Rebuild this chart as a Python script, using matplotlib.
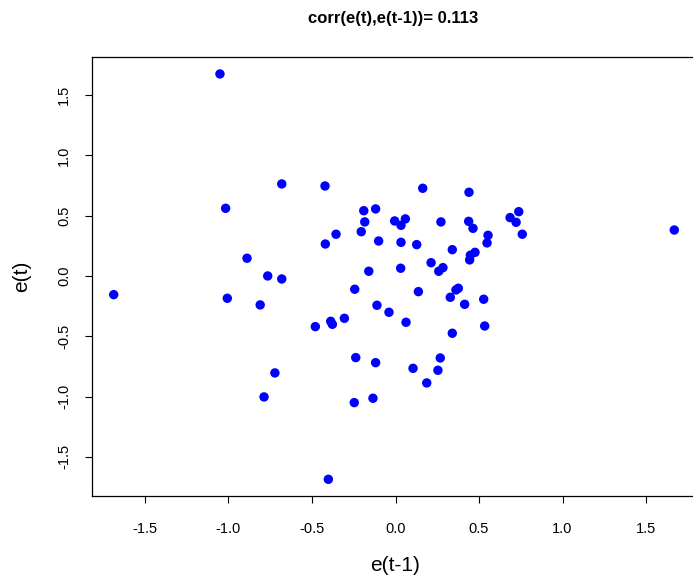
import numpy as np
from matplotlib import pyplot as plt

plt.rcParams['font.family'] = ['Liberation Sans', 'DejaVu Sans']

# residual pairs: e(t-1) on x, e(t) on y
e_prev = [-1.051, -0.681, -0.422, -1.017, -0.190, -0.119, -0.184, -0.356, -0.205, -0.420,
          -0.101, -0.889, -0.160, -0.765, -0.681, -1.687, -1.007, -0.244, -0.810, -0.111,
          -0.039, -0.306, -0.388, -0.378, -0.480, -0.238, -0.119, -0.722, -0.787, -0.247,
          -0.135, -0.402,
          -0.005, 0.059, 0.033, 0.033, 0.127, 0.031, 0.137,
          0.163, 0.440, 0.272, 0.438, 0.464, 0.686, 0.738, 0.722, 0.759, 0.554,
          0.548, 0.340, 0.476, 0.448, 0.444, 0.213, 0.284, 0.259, 0.376, 0.362,
          0.328, 0.528,
          0.063, 0.105, 0.187,
          0.414, 0.534, 0.340, 0.268, 0.254,
          1.669]
e_curr = [1.675, 0.763, 0.746, 0.561, 0.541, 0.556, 0.448, 0.346, 0.367, 0.265,
          0.290, 0.147, 0.039, 0.000, -0.025, -0.155, -0.185, -0.110, -0.240, -0.243,
          -0.301, -0.351, -0.376, -0.401, -0.420, -0.677, -0.719, -0.804, -1.003, -1.050,
          -1.014, -1.686,
          0.456, 0.473, 0.420, 0.279, 0.260, 0.064, -0.130,
          0.727, 0.694, 0.448, 0.453, 0.395, 0.484, 0.533, 0.445, 0.346, 0.337,
          0.274, 0.218, 0.196, 0.172, 0.133, 0.110, 0.069, 0.039, -0.102, -0.116,
          -0.177, -0.193,
          -0.384, -0.766, -0.887,
          -0.235, -0.415, -0.475, -0.680, -0.782,
          0.381]
ticks = [-1.5, -1.0, -0.5, 0.0, 0.5, 1.0, 1.5]
tick_labels = ["-1.5", "-1.0", "-0.5", "0.0", "0.5", "1.0", "1.5"]

fig = plt.figure(figsize=(6.93, 5.76), dpi=100)
ax = fig.add_axes([92/693, 80.3/576, 606/693, 438.4/576])

ax.scatter(e_prev, e_curr, s=46, color='blue', edgecolors='none')

ax.set_xlim(-1.817, 1.811)
ax.set_ylim(-1.822, 1.813)
ax.set_xticks(ticks)
ax.set_xticklabels(tick_labels)
ax.set_yticks(ticks)
ax.set_yticklabels(tick_labels, rotation=90, va='center')
ax.tick_params(direction='out', length=5, width=0.8, labelsize=10.5)
ax.tick_params(axis='x', pad=14)
ax.tick_params(axis='y', pad=10)
for s in ax.spines.values():
    s.set_linewidth(0.9)

ax.set_xlabel("e(t-1)", fontsize=15, labelpad=14)
ax.set_ylabel("e(t)", fontsize=15, labelpad=19)
fig.text(393/693, 1 - 18/576, "corr(e(t),e(t-1))= 0.113", ha='center', va='center',
         fontsize=12, fontweight='bold')

plt.savefig("out.png", dpi=100)
